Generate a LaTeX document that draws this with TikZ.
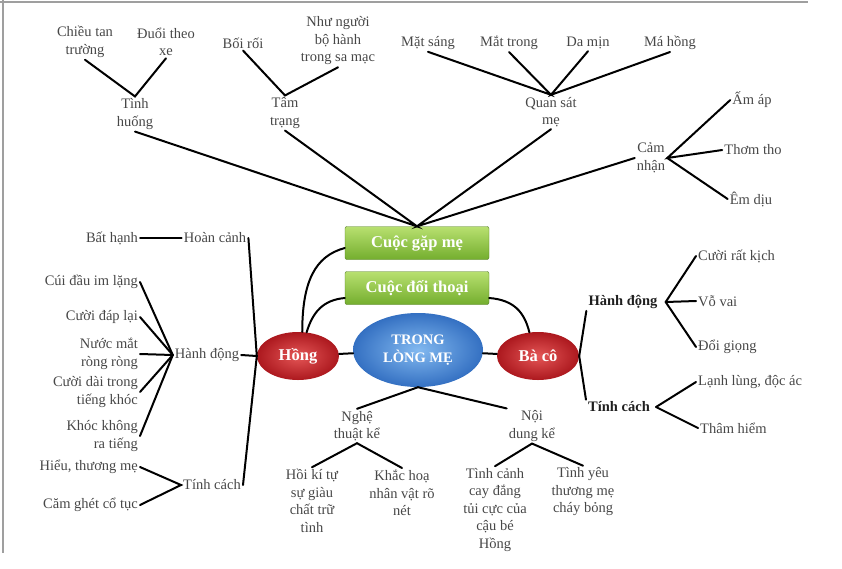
\documentclass[tikz,border=0pt]{standalone}
\usepackage{fontspec}
\setmainfont{Liberation Serif}
\usetikzlibrary{shapes.geometric}
\definecolor{gtop}{RGB}{184,224,112}
\definecolor{gbot}{RGB}{116,174,46}
\definecolor{rin}{RGB}{228,86,86}
\definecolor{rout}{RGB}{172,24,30}
\definecolor{bin}{RGB}{130,185,240}
\definecolor{bout}{RGB}{52,112,194}

\begin{document}
\begin{tikzpicture}[x=1pt,y=-1pt,
  lbl/.style={font=\fontsize{14.5}{17.5}\selectfont,text=black!72,align=center,inner sep=2pt},
  bld/.style={font=\bfseries\fontsize{14.5}{17.5}\selectfont,text=black!88,inner sep=2pt},
  lnk/.style={line width=2pt,line cap=round},
  gbox/.style={draw=gbot!70!black,rounded corners=2pt,top color=gtop,bottom color=gbot,
    minimum width=144pt,minimum height=33pt,text=white,font=\bfseries\fontsize{16.5}{18}\selectfont},
  rball/.style={ellipse,inner color=rin,outer color=rout,minimum width=82pt,minimum height=48pt,
    text=white,font=\bfseries\fontsize{16.5}{18}\selectfont},
  bball/.style={ellipse,inner color=bin,outer color=bout,minimum width=130pt,minimum height=74pt,
    text=white,align=center,font=\bfseries\fontsize{14.5}{18}\selectfont}]
\useasboundingbox (0,0) rectangle (842,568);
\draw[gray!75,line width=1.5pt] (0,2)--(808,2);
\draw[gray!75,line width=1.5pt] (3,0)--(3,553);

\node[gbox] (gapme) at (417,243) {Cuộc gặp mẹ};
\node[gbox] (doithoai) at (417,288) {Cuộc đối thoại};
\node[bball] (trong) at (418,350) {TRONG\\LÒNG MẸ};
\node[rball] (hong) at (298,356) {Hồng};
\node[rball] (baco) at (538,356) {Bà cô};

\node[lbl] (chieutan) at (85,42) {Chiều tan\\trường};
\node[lbl] (duoitheo) at (166,42) {Đuổi theo\\xe};
\node[lbl] (tinhhuong) at (135,114) {Tình\\huống};
\node[lbl] (boiroi) at (243,43) {Bối rối};
\node[lbl] (nhunguoi) at (338,41) {Như người\\bộ hành\\trong sa mạc};
\node[lbl] (tamtrang) at (285,113) {Tâm\\trạng};
\node[lbl] (matsang) at (428,43) {Mặt sáng};
\node[lbl] (mattrong) at (509,43) {Mắt trong};
\node[lbl] (damin) at (588,43) {Da mịn};
\node[lbl] (mahong) at (670,43) {Má hồng};
\node[lbl] (quansat) at (551,112) {Quan sát\\mẹ};
\node[lbl] (camnhan) at (651,158) {Cảm\\nhận};
\node[lbl] (amap) at (752,100) {Ấm áp};
\node[lbl] (thomtho) at (753,150) {Thơm tho};
\node[lbl] (emdiu) at (751,199) {Êm dịu};

\node[lbl] (bathanh) at (112,238) {Bất hạnh};
\node[lbl] (hoancanh) at (215,238) {Hoàn cảnh};
\node[lbl] (hanhdongL) at (207,355) {Hành động};
\node[lbl] (tinhcachL) at (212,485) {Tính cách};
\node[lbl,anchor=east,align=right] (cuidau) at (140,282) {Cúi đầu im lặng};
\node[lbl,anchor=east,align=right] (cuoidap) at (140,317) {Cười đáp lại};
\node[lbl,anchor=east,align=right] (nuocmat) at (140,354) {Nước mắt\\ròng ròng};
\node[lbl,anchor=east,align=right] (cuoidai) at (140,392) {Cười dài trong\\tiếng khóc};
\node[lbl,anchor=east,align=right] (khockhong) at (140,436) {Khóc không\\ra tiếng};
\node[lbl,anchor=east,align=right] (hieu) at (140,467) {Hiểu, thương mẹ};
\node[lbl,anchor=east,align=right] (camghet) at (140,505) {Căm ghét cổ tục};

\node[lbl] (nghethuat) at (357,426) {Nghệ\\thuật kể};
\node[lbl] (noidung) at (532,426) {Nội\\dung kể};
\node[lbl] (hoiki) at (312,501) {Hồi kí tự\\sự giàu\\chất trữ\\tình};
\node[lbl] (khachoa) at (402,493) {Khắc hoạ\\nhân vật rõ\\nét};
\node[lbl] (tinhcanh) at (495,510) {Tình cảnh\\cay đắng\\tủi cực của\\cậu bé\\Hồng};
\node[lbl] (tinhyeu) at (583,492) {Tình yêu\\thương mẹ\\cháy bỏng};

\node[bld] (hanhdongR) at (623,302) {Hành động};
\node[bld] (tinhcachR) at (619,407) {Tính cách};
\node[lbl,anchor=west] (cuoirat) at (696,256) {Cười rất kịch};
\node[lbl,anchor=west] (vovai) at (696,301) {Vỗ vai};
\node[lbl,anchor=west] (doigiong) at (696,347) {Đổi giọng};
\node[lbl,anchor=west] (lanhlung) at (696,382) {Lạnh lùng, độc ác};
\node[lbl,anchor=west] (thamhiem) at (698,428) {Thâm hiểm};

\draw[lnk] (chieutan.south)--(tinhhuong.north)--(duoitheo.south);
\draw[lnk] (boiroi.south)--(tamtrang.north)--(nhunguoi.south);
\draw[lnk] (matsang.south)--(quansat.north)--(mattrong.south);
\draw[lnk] (damin.south)--(quansat.north)--(mahong.south);
\draw[lnk] (amap.west)--(camnhan.east)--(thomtho.west);
\draw[lnk] (camnhan.east)--(emdiu.west);
\draw[lnk] (tinhhuong.south)--(gapme.north)--(tamtrang.south);
\draw[lnk] (quansat.south)--(gapme.north)--(camnhan.west);

\draw[lnk] (hong.80) .. controls +(0,-50) and +(-30,8) .. ([yshift=-5pt]gapme.west);
\draw[lnk] (hong.70) .. controls +(6,-20) and +(-22,2) .. ([yshift=-10pt]doithoai.west);
\draw[lnk] ([yshift=-10pt]doithoai.east) .. controls +(25,2) and +(-5,-20) .. (baco.110);
\draw[lnk] (hong)--(trong)--(baco);

\draw[lnk] (bathanh.east)--(hoancanh.west);
\draw[lnk] (hoancanh.east)--(hong.west)--(tinhcachL.east);
\draw[lnk] (hanhdongL.east)--(hong.west);
\foreach \n in {cuidau,cuoidap,nuocmat,cuoidai,khockhong}
  \draw[lnk] (\n.east)--(hanhdongL.west);
\draw[lnk] (hieu.east)--(tinhcachL.west)--(camghet.east);

\draw[lnk] (nghethuat.north)--(trong.south)--(noidung.north west);
\draw[lnk] (hoiki.north)--(nghethuat.south)--(khachoa.north);
\draw[lnk] (tinhcanh.north)--(noidung.south)--(tinhyeu.north);

\draw[lnk] (hanhdongR.south west)--(baco.east)--(tinhcachR.north west);
\foreach \n in {cuoirat,vovai,doigiong}
  \draw[lnk] (\n.west)--([xshift=6pt]hanhdongR.east);
\foreach \n in {lanhlung,thamhiem}
  \draw[lnk] (\n.west)--([xshift=4pt]tinhcachR.east);
\end{tikzpicture}
\end{document}
